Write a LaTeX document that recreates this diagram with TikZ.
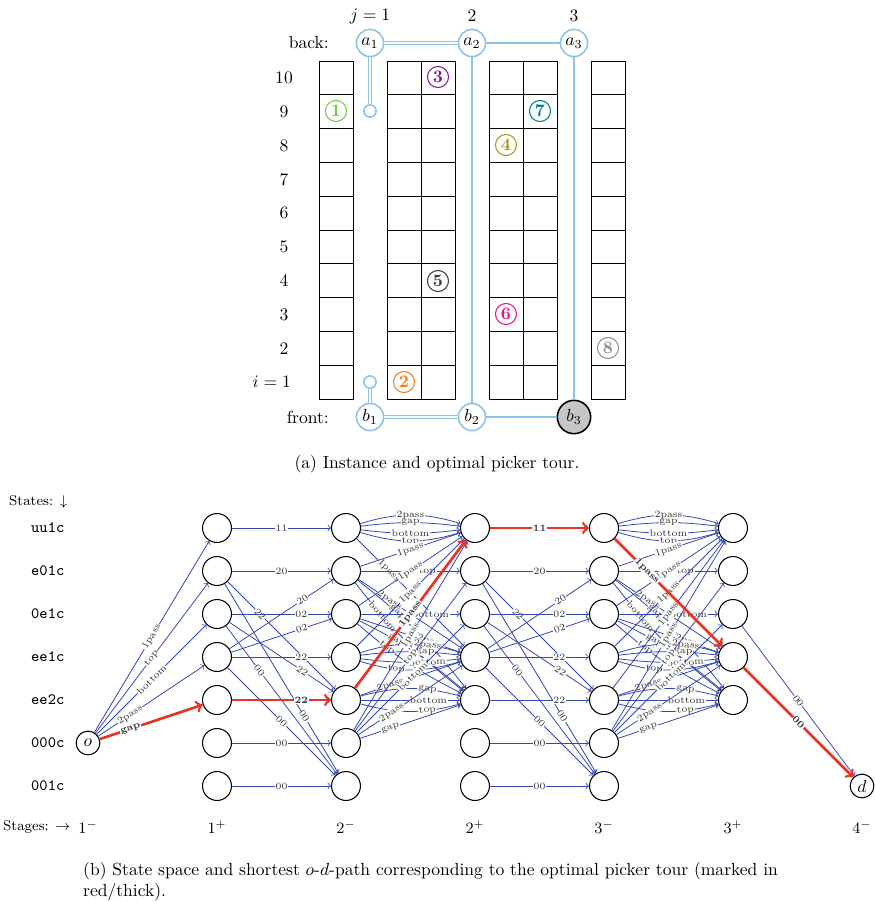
\documentclass[tikz,border=0pt]{standalone}
\usepackage{amsmath}
\usepackage{amssymb}
\usepackage{tikz}

\definecolor{tourblue}{RGB}{140,195,230}
\definecolor{arcblue}{RGB}{50,70,180}
\definecolor{optred}{RGB}{235,50,35}
\definecolor{itemA}{RGB}{110,200,80}
\definecolor{itemB}{RGB}{245,125,30}
\definecolor{itemC}{RGB}{130,30,130}
\definecolor{itemD}{RGB}{170,150,20}
\definecolor{itemE}{RGB}{60,60,60}
\definecolor{itemF}{RGB}{225,20,140}
\definecolor{itemG}{RGB}{0,128,128}
\definecolor{itemH}{RGB}{145,145,145}

\begin{document}
\begin{tikzpicture}[x=0.57pt, y=0.57pt]
\tikzstyle{rack} = [draw, line width=0.45pt]
\tikzstyle{cross} = [circle, draw=tourblue, line width=0.9pt, fill=white, minimum size=15.5pt, inner sep=0pt]
\tikzstyle{stub} = [circle, draw=tourblue, line width=0.9pt, fill=white, minimum size=7pt, inner sep=0pt]
\tikzstyle{tour} = [draw=tourblue, line width=0.9pt]
\tikzstyle{twice} = [draw=tourblue, line width=0.8pt, double=white, double distance=1.2pt]
\tikzstyle{item} = [circle, draw=#1, text=#1, font=\bfseries, line width=0.6pt, minimum size=12pt, inner sep=0pt]
\tikzstyle{state} = [circle, draw, line width=0.6pt, minimum size=16.5pt, inner sep=0pt]
\tikzstyle{term} = [circle, draw, line width=0.6pt, minimum size=13.5pt, inner sep=0pt]
\tikzstyle{arc} = [->, draw=arcblue, line width=0.45pt]
\tikzstyle{opt} = [->, draw=optred, line width=1.5pt]
\tikzstyle{lbl} = [font=\fontsize{5.5}{6}\selectfont, text=black!80, fill=white, inner sep=0.4pt, sloped]
\tikzstyle{olbl} = [lbl, font=\fontsize{5.5}{6}\selectfont\bfseries]
\useasboundingbox (0,0) rectangle (874,-901);

% (a) instance
\foreach \c in {319,387,421,489,523,591}
  \foreach \r in {0,...,9}
    \draw[rack] (\c,{-61-33.8*\r}) rectangle ++(34,-33.8);
\foreach \r in {2,...,10}
  \node (row\r) at (284,{-399+33.8*(\r-0.5)}) {\r};
\node[anchor=east] (row1) at (297,-382) {$i=1$};
\node (j1) at (370,-16) {$j=1$};
\node (j2) at (472,-16) {2};
\node (j3) at (574,-16) {3};
\node[anchor=east] (back) at (335,-43) {back:};
\node[anchor=east] (front) at (335,-417) {front:};

\node[cross] (a1) at (370,-43) {$a_1$};
\node[cross] (a2) at (472,-43) {$a_2$};
\node[cross] (a3) at (574,-43) {$a_3$};
\node[cross] (b1) at (370,-417) {$b_1$};
\node[cross] (b2) at (472,-417) {$b_2$};
\node[cross, draw=black, fill=gray!45, minimum size=19pt] (b3) at (574,-417) {$b_3$};
\node[stub] (t1) at (370,-111) {};
\node[stub] (t2) at (370,-382) {};
\draw[twice] (a1) -- (a2);
\draw[twice] (a1) -- (t1);
\draw[twice] (b1) -- (b2);
\draw[twice] (b1) -- (t2);
\draw[tour] (a2) -- (a3);
\draw[tour] (a2) -- (b2);
\draw[tour] (b2) -- (b3);
\draw[tour] (a3) -- (b3);

\node[item=itemA] (i1) at (336,-111) {1};
\node[item=itemB] (i2) at (404,-382) {2};
\node[item=itemC] (i3) at (438,-77) {3};
\node[item=itemD] (i4) at (506,-145) {4};
\node[item=itemE] (i5) at (438,-281) {5};
\node[item=itemF] (i6) at (506,-314) {6};
\node[item=itemG] (i7) at (540,-111) {7};
\node[item=itemH] (i8) at (608,-348) {8};

\node (capa) at (437,-464) {(a) Instance and optimal picker tour.};

% (b) state space
\node[anchor=west] (states) at (3,-502) {\footnotesize States: $\downarrow$};
\foreach \q/\y in {uu1c/528,e01c/571,0e1c/614,ee1c/657,ee2c/700,000c/743,001c/786}
  \node[anchor=west, font=\small\ttfamily] (lab-\q) at (25,-\y) {\q};
\node[anchor=west] (stages) at (-3,-827) {\footnotesize Stages: $\rightarrow$};
\foreach \s/\x/\stx in {1m/88/1^-,1p/217/1^+,2m/346/2^-,2p/475/2^+,3m/604/3^-,3p/733/3^+,4m/862/4^-}
  \node (stg-\s) at (\x,-827) {\small$\stx$};

\foreach \st/\x in {1p/217,2m/346,2p/475,3m/604}
  \foreach \q/\y in {uu1c/528,e01c/571,0e1c/614,ee1c/657,ee2c/700,000c/743,001c/786}
    \node[state] (\q-\st) at (\x,-\y) {};
\foreach \q/\y in {uu1c/528,e01c/571,0e1c/614,ee1c/657,ee2c/700}
  \node[state] (\q-3p) at (733,-\y) {};
\node[term] (o) at (88,-743) {$o$};
\node[term] (d) at (862,-786) {$d$};

% first aisle
\draw[arc] (o) -- node[lbl] {1pass} (uu1c-1p);
\draw[arc] (o) -- node[lbl] {top} (e01c-1p);
\draw[arc] (o) -- node[lbl] {bottom} (0e1c-1p);
\draw[arc] (o) -- node[lbl, pos=.3] {2pass} (ee1c-1p);

% cross aisles
\foreach \a/\b in {1p/2m, 2p/3m} {
  \draw[arc] (uu1c-\a) -- node[lbl] {11} (uu1c-\b);
  \draw[arc] (e01c-\a) -- node[lbl] {20} (e01c-\b);
  \draw[arc] (e01c-\a) -- node[lbl, pos=.3] {22} (ee2c-\b);
  \draw[arc] (e01c-\a) -- node[lbl, pos=.7] {00} (001c-\b);
  \draw[arc] (0e1c-\a) -- node[lbl, pos=.7] {02} (0e1c-\b);
  \draw[arc] (0e1c-\a) -- node[lbl, pos=.7] {22} (ee2c-\b);
  \draw[arc] (0e1c-\a) -- node[lbl, pos=.3] {00} (001c-\b);
  \draw[arc] (ee1c-\a) -- node[lbl, pos=.7] {20} (e01c-\b);
  \draw[arc] (ee1c-\a) -- node[lbl, pos=.7] {02} (0e1c-\b);
  \draw[arc] (ee1c-\a) -- node[lbl, pos=.7] {22} (ee1c-\b);
  \draw[arc] (ee1c-\a) -- node[lbl] {00} (001c-\b);
  \draw[arc] (ee2c-\a) -- node[lbl, pos=.7] {22} (ee2c-\b);
  \draw[arc] (000c-\a) -- node[lbl] {00} (000c-\b);
  \draw[arc] (001c-\a) -- node[lbl] {00} (001c-\b);
}

% aisles 2 and 3
\foreach \a/\b in {2m/2p, 3m/3p} {
  \draw[arc] (uu1c-\a) to[bend left=17] node[lbl] {2pass} (uu1c-\b);
  \draw[arc] (uu1c-\a) to[bend left=7] node[lbl] {gap} (uu1c-\b);
  \draw[arc] (uu1c-\a) to[bend right=7] node[lbl] {bottom} (uu1c-\b);
  \draw[arc] (uu1c-\a) to[bend right=17] node[lbl] {top} (uu1c-\b);
  \draw[arc] (uu1c-\a) -- node[lbl, pos=.3] {1pass} (ee1c-\b);
  \draw[arc] (e01c-\a) -- node[lbl] {1pass} (uu1c-\b);
  \draw[arc] (e01c-\a) -- node[lbl, pos=.67] {top} (e01c-\b);
  \draw[arc] (e01c-\a) -- node[lbl, pos=.3] {2pass} (ee1c-\b);
  \draw[arc] (e01c-\a) to[bend left=7] node[lbl, pos=.32] {gap} (ee2c-\b);
  \draw[arc] (e01c-\a) to[bend right=7] node[lbl, pos=.27] {bottom} (ee2c-\b);
  \draw[arc] (0e1c-\a) -- node[lbl] {1pass} (uu1c-\b);
  \draw[arc] (0e1c-\a) -- node[lbl, pos=.7] {bottom} (0e1c-\b);
  \draw[arc] (0e1c-\a) -- node[lbl, pos=.7] {2pass} (ee1c-\b);
  \draw[arc] (0e1c-\a) to[bend left=7] node[lbl, pos=.32] {gap} (ee2c-\b);
  \draw[arc] (0e1c-\a) to[bend right=7] node[lbl, pos=.29] {top} (ee2c-\b);
  \draw[arc] (ee1c-\a) -- node[lbl] {1pass} (uu1c-\b);
  \draw[arc] (ee1c-\a) to[bend left=17] node[lbl, pos=.68] {2pass} (ee1c-\b);
  \draw[arc] (ee1c-\a) to[bend left=7] node[lbl, pos=.66] {gap} (ee1c-\b);
  \draw[arc] (ee1c-\a) to[bend right=7] node[lbl, pos=.68] {bottom} (ee1c-\b);
  \draw[arc] (ee1c-\a) to[bend right=17] node[lbl, pos=.35] {top} (ee1c-\b);
  \draw[arc] (ee2c-\a) -- node[lbl] {1pass} (uu1c-\b);
  \draw[arc] (ee2c-\a) -- node[lbl, pos=.3] {2pass} (ee1c-\b);
  \draw[arc] (ee2c-\a) to[bend left=15] node[lbl, pos=.68] {gap} (ee2c-\b);
  \draw[arc] (ee2c-\a) -- node[lbl, pos=.68] {bottom} (ee2c-\b);
  \draw[arc] (ee2c-\a) to[bend right=15] node[lbl, pos=.68] {top} (ee2c-\b);
  \draw[arc] (000c-\a) -- node[lbl] {1pass} (uu1c-\b);
  \draw[arc] (000c-\a) -- node[lbl] {top} (e01c-\b);
  \draw[arc] (000c-\a) -- node[lbl, pos=.52] {bottom} (0e1c-\b);
  \draw[arc] (000c-\a) -- node[lbl, pos=.32] {2pass} (ee1c-\b);
  \draw[arc] (000c-\a) -- node[lbl, pos=.3] {gap} (ee2c-\b);
}

% to the depot
\draw[arc] (0e1c-3p) -- node[lbl] {00} (d);

% shortest path
\draw[opt] (o) -- node[olbl, pos=.3] {gap} (ee2c-1p);
\draw[opt] (ee2c-1p) -- node[olbl, pos=.7] {22} (ee2c-2m);
\draw[opt] (ee2c-2m) -- node[olbl] {1pass} (uu1c-2p);
\draw[opt] (uu1c-2p) -- node[olbl] {11} (uu1c-3m);
\draw[opt] (uu1c-3m) -- node[olbl, pos=.3] {1pass} (ee1c-3p);
\draw[opt] (ee1c-3p) -- node[olbl] {00} (d);

\node[anchor=north west, align=left] (capb) at (77,-856) {(b) State space and shortest $o$-$d$-path corresponding to the optimal picker tour (marked in\\red/thick).};
\end{tikzpicture}
\end{document}
